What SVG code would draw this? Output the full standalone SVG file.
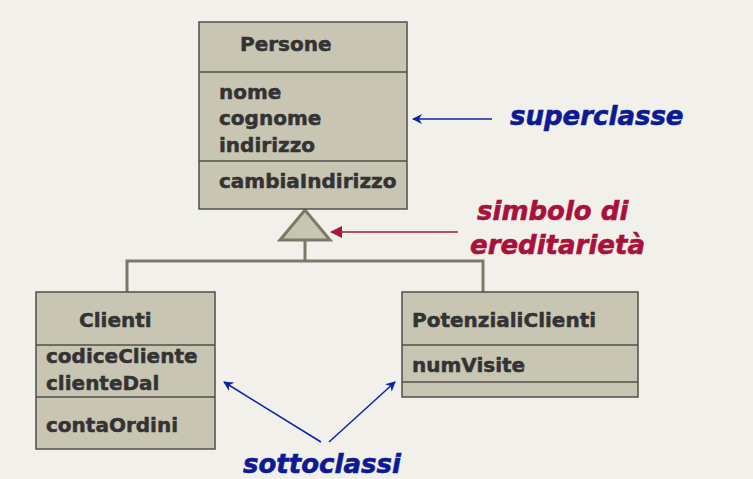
<svg xmlns="http://www.w3.org/2000/svg" width="753" height="479" viewBox="0 0 753 479">
<style>
.box{fill:#c8c5b3;stroke:#4f4f4a;stroke-width:1.5}
.div{stroke:#4f4f4a;stroke-width:1.5}
.t{font-family:"DejaVu Sans",Verdana,sans-serif;font-weight:bold;font-size:20px;fill:#333333;stroke:#333333;stroke-width:0.5}
.lbl{font-family:"DejaVu Sans",Verdana,sans-serif;font-weight:bold;font-style:italic;font-size:26px;stroke-width:0.6}
.inh{stroke:#7b7a66;stroke-width:3;fill:none}
</style>
<defs>
<marker id="ab" markerWidth="10" markerHeight="10" refX="9" refY="5" orient="auto" markerUnits="userSpaceOnUse"><path d="M0,0 L10,5 L0,10 L3,5 Z" fill="#0c23a8"/></marker>
<marker id="ar" markerWidth="12" markerHeight="12" refX="11" refY="6" orient="auto" markerUnits="userSpaceOnUse"><path d="M0,0 L12,6 L0,12 Z" fill="#a8163f"/></marker>
</defs>
<rect width="753" height="479" fill="#f2f0eb"/>
<g id="connectors">
<polyline class="inh" points="127,292 127,261 483,261 483,292"/>
<line class="inh" x1="305" y1="240" x2="305" y2="261"/>
<polygon points="305,210 280,240 330,240" fill="#c8c5b3" stroke="#7b7a66" stroke-width="3"/>
<line x1="492" y1="119" x2="413" y2="119" stroke="#0c23a8" stroke-width="1.5" marker-end="url(#ab)"/>
<line x1="458" y1="232" x2="331" y2="232" stroke="#a8163f" stroke-width="1.5" marker-end="url(#ar)"/>
<line x1="321" y1="442" x2="224" y2="382" stroke="#0c23a8" stroke-width="1.5" marker-end="url(#ab)"/>
<line x1="329" y1="442" x2="395" y2="382" stroke="#0c23a8" stroke-width="1.5" marker-end="url(#ab)"/>
</g>
<g id="Persone">
<rect class="box" x="199" y="22" width="208" height="187"/>
<line class="div" x1="199" y1="72" x2="407" y2="72"/>
<line class="div" x1="199" y1="161" x2="407" y2="161"/>
<text class="t" x="240" y="51">Persone</text>
<text class="t" x="219" y="99">nome</text>
<text class="t" x="219" y="125">cognome</text>
<text class="t" x="219" y="152">indirizzo</text>
<text class="t" x="219" y="188">cambiaIndirizzo</text>
</g>
<g id="Clienti">
<rect class="box" x="36" y="292" width="179" height="157"/>
<line class="div" x1="36" y1="345" x2="215" y2="345"/>
<line class="div" x1="36" y1="397" x2="215" y2="397"/>
<text class="t" x="79" y="327">Clienti</text>
<text class="t" x="46" y="363">codiceCliente</text>
<text class="t" x="46" y="390">clienteDal</text>
<text class="t" x="46" y="432">contaOrdini</text>
</g>
<g id="PotenzialiClienti">
<rect class="box" x="402" y="292" width="236" height="105"/>
<line class="div" x1="402" y1="345" x2="638" y2="345"/>
<line class="div" x1="402" y1="382" x2="638" y2="382"/>
<text class="t" x="412" y="327">PotenzialiClienti</text>
<text class="t" x="412" y="372">numVisite</text>
</g>
<g id="labels">
<text class="lbl" x="510" y="125" fill="#0c1a94" stroke="#0c1a94">superclasse</text>
<text class="lbl" x="477" y="220" fill="#a8123a" stroke="#a8123a">simbolo di</text>
<text class="lbl" x="470" y="254" fill="#a8123a" stroke="#a8123a">ereditarietà</text>
<text class="lbl" x="243" y="473" fill="#0c1a94" stroke="#0c1a94">sottoclassi</text>
</g>
</svg>
